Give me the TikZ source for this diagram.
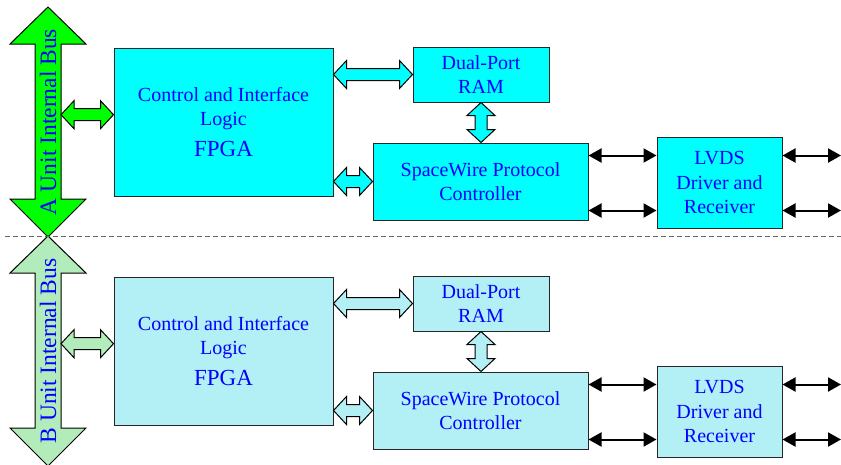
\documentclass[tikz,border=0pt]{standalone}
\usepackage{fontspec}
\setmainfont{Liberation Serif}
\usetikzlibrary{arrows.meta,calc}

\definecolor{cyanA}{RGB}{0,255,255}
\definecolor{cyanB}{RGB}{178,240,245}
\definecolor{greenA}{RGB}{0,255,0}
\definecolor{greenB}{RGB}{178,236,186}
\definecolor{txtblue}{RGB}{0,0,255}

% horizontal hollow double arrow; the y of the first point is used
\newcommand\hblock[3]{%
  \draw[blockarrow, fill=#1] let \p1=#2, \p2=#3 in
    (\x1,\y1) -- (\x1+13pt,\y1+14pt) -- (\x1+13pt,\y1+6pt) -- (\x2-13pt,\y1+6pt)
    -- (\x2-13pt,\y1+14pt) -- (\x2,\y1) -- (\x2-13pt,\y1-14pt) -- (\x2-13pt,\y1-6pt)
    -- (\x1+13pt,\y1-6pt) -- (\x1+13pt,\y1-14pt) -- cycle;}

% vertical hollow double arrow; the x of the first point is used
\newcommand\vblock[3]{%
  \draw[blockarrow, fill=#1] let \p1=#2, \p2=#3 in
    (\x1,\y1) -- (\x1+14pt,\y1-13pt) -- (\x1+6pt,\y1-13pt) -- (\x1+6pt,\y2+13pt)
    -- (\x1+14pt,\y2+13pt) -- (\x1,\y2) -- (\x1-14pt,\y2+13pt) -- (\x1-6pt,\y2+13pt)
    -- (\x1-6pt,\y1-13pt) -- (\x1-14pt,\y1-13pt) -- cycle;}

% one unit: #1 suffix, #2 box fill, #3 bus fill, #4 unit letter
\newcommand\drawunit[4]{%
  % internal bus
  \draw[blockarrow, fill=#3] (48,7) -- (86,44) -- (61,44) -- (61,199) -- (86,199)
    -- (48,237) -- (10,199) -- (35,199) -- (35,44) -- (10,44) -- cycle;
  \node[bustext] (bus#1) at (48,122) {#4 Unit Internal Bus};
  \coordinate (bus#1edge) at (61,114.7);
  % blocks
  \node[box, fill=#2, minimum width=219pt, minimum height=148pt] (fpga#1) at (223.5,122)
    {Control and Interface\\Logic\\[6pt]{\fontsize{23}{27}\selectfont FPGA}};
  \node[box, fill=#2, minimum width=136pt, minimum height=55pt] (ram#1) at (481,74.5)
    {Dual-Port\\RAM};
  \node[box, fill=#2, minimum width=215pt, minimum height=77pt] (sw#1) at (480.5,181.5)
    {SpaceWire Protocol\\Controller};
  \node[box, fill=#2, minimum width=125pt, minimum height=91pt] (lvds#1) at (719.5,182.5)
    {LVDS\\Driver and\\Receiver};
  % block arrows
  \hblock{#3}{(bus#1edge)}{(bus#1edge -| fpga#1.west)}
  \hblock{#2}{(fpga#1.east |- ram#1.west)}{(ram#1.west)}
  \hblock{#2}{(fpga#1.east |- sw#1.west)}{(sw#1.west)}
  \vblock{#2}{(ram#1.south)}{(ram#1.south |- sw#1.north)}
  % serial links
  \coordinate (up#1) at ($(sw#1.north east)+(0,13)$);
  \coordinate (dn#1) at ($(sw#1.south east)+(0,-10)$);
  \draw[wire] (up#1) -- (up#1 -| lvds#1.west);
  \draw[wire] (dn#1) -- (dn#1 -| lvds#1.west);
  \draw[wire] (up#1 -| lvds#1.east) -- (up#1 -| rim);
  \draw[wire] (dn#1 -| lvds#1.east) -- (dn#1 -| rim);
}

\begin{document}
\begin{tikzpicture}[x=1pt,y=-1pt,
  box/.style={draw=black!85, line width=1pt, text=txtblue, align=center,
    font=\fontsize{20}{24.5}\selectfont, inner sep=0pt},
  bustext/.style={rotate=90, text=txtblue, font=\fontsize{23.5}{26}\selectfont, inner sep=0pt},
  blockarrow/.style={draw=black, line width=1pt, line join=miter},
  wire/.style={line width=2pt,
    {Triangle[length=13pt,width=14pt]}-{Triangle[length=13pt,width=14pt]}},
  divider/.style={draw=black!60, line width=1pt, dash pattern=on 5pt off 3pt}]
  \useasboundingbox (0,0) rectangle (841,464);
  \coordinate (rim) at (841,0);

  \drawunit{A}{cyanA}{greenA}{A}
  \begin{scope}[yshift=-229pt]
    \drawunit{B}{cyanB}{greenB}{B}
  \end{scope}

  % boundary between the two units
  \coordinate (divl) at (5,236.5);
  \draw[divider] (divl) -- (divl -| rim);
\end{tikzpicture}
\end{document}
